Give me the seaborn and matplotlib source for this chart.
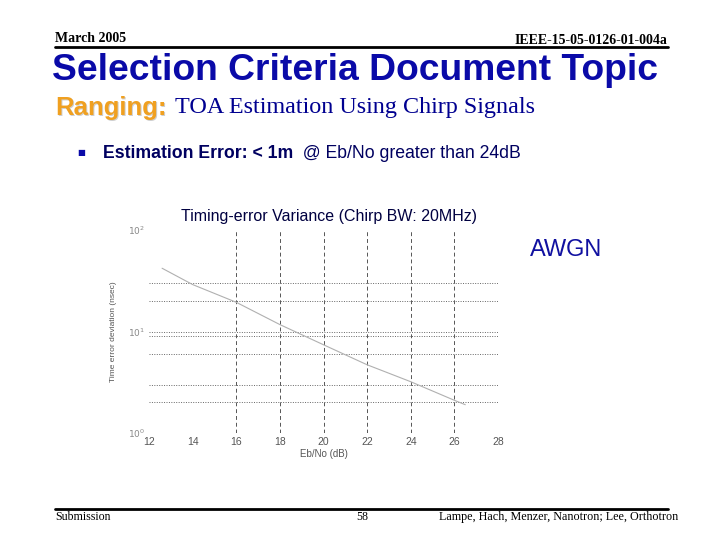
import matplotlib
matplotlib.use("Agg")
import matplotlib.pyplot as plt
import seaborn as sns
import pandas as pd
from matplotlib.lines import Line2D
from matplotlib.text import Annotation

# ---- data ----
ebno_db = [12.6, 14, 16, 18, 20, 22, 24, 26, 26.5]
time_err_ns = [42, 29, 19.4, 11.7, 7.4, 4.7, 3.2, 2.1, 1.9]
x_ticks = [12, 14, 16, 18, 20, 22, 24, 26, 28]
x_grid = [16, 18, 20, 22, 24, 26]
y_ticks = [1, 10, 100]
y_tick_labels = ["$10^0$", "$10^1$", "$10^2$"]
y_grid = [2, 3, 6, 9, 10, 20, 30]

sns.set_style("white")
plt.rcParams['font.family'] = ['Liberation Sans', 'DejaVu Sans']

fig = plt.figure(figsize=(7.2, 5.4), dpi=100)
fig.patch.set_facecolor("white")

# ---- slide decorations ----
serif = ['Liberation Serif', 'DejaVu Serif']
fig.text(55/720, 1-38/540, "March 2005", family=serif, weight='bold', fontsize=10,
         ha='left', va='center', color='black')
fig.text(667/720, 1-41/540, "IEEE-15-05-0126-01-004a", family=serif, weight='bold',
         fontsize=10, ha='right', va='center', color='black')
fig.add_artist(Line2D([55/720, 668/720], [1-47/540, 1-47/540], color='black', lw=2))
fig.text(52/720, 1-70/540, "Selection Criteria Document Topic", weight='bold',
         fontsize=26.8, ha='left', va='center', color='#0a0aa8')
fig.text(56.5/720, 1-109.5/540, "Ranging:", weight='bold', fontsize=18.5,
         ha='left', va='center', color='#cfcfcf', zorder=0)
fig.text(55/720, 1-108/540, "Ranging:", weight='bold', fontsize=18.5,
         ha='left', va='center', color='#f0a020', zorder=1)
fig.text(175/720, 1-108/540, "TOA Estimation Using Chirp Signals", family=serif,
         fontsize=17.4, ha='left', va='center', color='#000090')
fig.text(81/720, 1-153/540, "■", fontsize=6, ha='center', va='center', color='#0a0aa8',
         family=['DejaVu Sans'])
t1 = fig.text(103/720, 1-153/540, "Estimation Error: < 1m", weight='bold', fontsize=12.7,
              ha='left', va='center', color='#000060')
fig.add_artist(Annotation("  @ Eb/No greater than 24dB", xy=(1, 0), xycoords=t1,
                          va='bottom', ha='left', fontsize=12.7, color='#000060'))

fig.add_artist(Line2D([55/720, 668/720], [1-509/540, 1-509/540], color='black', lw=2))
fig.text(55/720, 1-517/540, "Submission", family=serif, fontsize=8.6, ha='left',
         va='center', color='black')
fig.text(362/720, 1-517/540, "58", family=serif, fontsize=8.6, ha='center',
         va='center', color='black')
fig.text(678/720, 1-517/540, "Lampe, Hach, Menzer, Nanotron; Lee, Orthotron", family=serif,
         fontsize=8.7, ha='right', va='center', color='black')

fig.text(566/720, 1-250/540, "AWGN", fontsize=17, ha='center', va='center', color='#1010a0')
fig.text(329/720, 1-216/540, "Timing-error Variance (Chirp BW: 20MHz)", fontsize=11.5,
         ha='center', va='center', color='#000040')

# ---- chart ----
ax = fig.add_axes([149/720, 1-433/540, 349/720, 203/540])
df = pd.DataFrame({"Eb/No (dB)": ebno_db, "err": time_err_ns})
sns.lineplot(data=df, x="Eb/No (dB)", y="err", ax=ax, color='#b0b0b0', lw=0.8, zorder=3)
ax.set_yscale('log')
ax.set_xlim(12, 28)
ax.set_ylim(1, 100)
for gx in x_grid:
    ax.axvline(gx, color='#555555', lw=0.7, ls=(0, (4, 3)), zorder=1)
for gy in y_grid:
    ax.axhline(gy, color='#666666', lw=0.7, ls=(0, (1, 1.5)), zorder=1)
ax.set_xticks(x_ticks)
ax.set_xticklabels([str(v) for v in x_ticks], fontsize=7.5, color='#555555')
ax.set_yticks(y_ticks)
ax.set_yticklabels(y_tick_labels, fontsize=6.5, color='#888888')
ax.minorticks_off()
ax.tick_params(length=0, pad=3)
for s in ax.spines.values():
    s.set_visible(False)
ax.set_xlabel("Eb/No (dB)", fontsize=7, color='#555555', labelpad=1)
ax.set_ylabel("Time error deviation (nsec)", fontsize=6, color='#555555', labelpad=8)
ax.patch.set_alpha(0)

fig.savefig("out.png", dpi=100)
